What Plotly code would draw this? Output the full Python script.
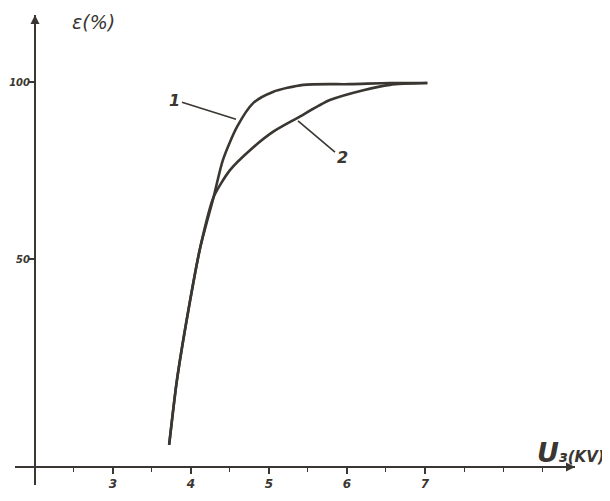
import plotly.graph_objects as go

# Curve 1
u1 = [3.72, 3.82, 3.96, 4.12, 4.29, 4.41, 4.59, 4.80, 5.05, 5.44, 6.04, 6.55, 7.03]
e1 = [-2.5, 15.8, 34.7, 53.4, 67.5, 78.0, 87.3, 94.1, 97.2, 99.2, 99.4, 99.7, 99.7]
# Curve 2
u2 = [3.72, 3.82, 3.96, 4.12, 4.29, 4.50, 4.76, 5.05, 5.36, 5.78, 6.21, 6.55, 7.03]
e2 = [-2.5, 15.8, 34.7, 53.4, 67.5, 75.1, 80.8, 85.9, 89.8, 94.9, 97.7, 99.2, 99.7]

x_ticks = [3, 4, 5, 6, 7]
y_ticks = [50, 100]
curve_labels = ["1", "2"]

ink = "#3a3631"
paper = "#ffffff"

fig = go.Figure()
for u, e in [(u1, e1), (u2, e2)]:
    fig.add_trace(go.Scatter(x=u, y=e, mode="lines",
                             line=dict(color=ink, width=2.6, shape="spline", smoothing=0.7),
                             hoverinfo="skip", showlegend=False))

tick_font = dict(family="DejaVu Sans", size=12, color=ink, style="italic", weight="bold")

# page body has an 8px margin, so the figure is sized to fit the window
fig.update_layout(
    width=602, height=493,
    margin=dict(l=7, r=35, t=7, b=16, autoexpand=False),
    paper_bgcolor=paper, plot_bgcolor=paper,
    showlegend=False,
    xaxis=dict(range=[1.744, 8.923], anchor="free", position=0.0383, automargin=False,
               showline=True, linecolor=ink, linewidth=2,
               showgrid=False, zeroline=False,
               tickmode="array", tickvals=x_ticks, ticktext=[str(t) for t in x_ticks],
               ticks="outside", ticklen=6, tickwidth=1.5, tickcolor=ink,
               minor=dict(dtick=0.5, tick0=0, ticks="outside", ticklen=4, tickwidth=1, tickcolor=ink),
               tickfont=tick_font),
    yaxis=dict(range=[-13.84, 118.93], anchor="free", position=0.0357, automargin=False,
               showline=True, linecolor=ink, linewidth=2,
               showgrid=False, zeroline=False,
               tickmode="array", tickvals=y_ticks, ticktext=[str(t) for t in y_ticks],
               ticks="outside", ticklen=5, tickwidth=1.5, tickcolor=ink, ticklabelstandoff=-3,
               tickfont=dict(family="DejaVu Sans", size=10, color=ink, style="italic", weight="bold")),
)

# axis arrows
fig.add_annotation(xref="paper", yref="paper", x=1.0, y=0.0383, ax=-22, ay=0,
                   showarrow=True, arrowhead=2, arrowsize=1, arrowwidth=1.8, arrowcolor=ink, text="")
fig.add_annotation(xref="paper", yref="paper", x=0.0357, y=1.0, ax=0, ay=22,
                   showarrow=True, arrowhead=2, arrowsize=1, arrowwidth=1.8, arrowcolor=ink, text="")

# axis titles
fig.add_annotation(xref="paper", yref="paper", x=0.098, y=1.012, xanchor="left", yanchor="top",
                   text="ε(%)", showarrow=False,
                   font=dict(family="DejaVu Sans", size=19, color=ink, style="italic"))
fig.add_annotation(xref="paper", yref="paper", x=1.057, y=0.032, xanchor="right", yanchor="bottom",
                   text="<span style='font-size:27px'>U</span>з(KV)", showarrow=False,
                   font=dict(family="DejaVu Sans", size=15, color=ink, style="italic", weight="bold"))

# curve labels with leader lines
fig.add_annotation(x=4.577, y=89.5, ax=-61, ay=-19, text=curve_labels[0],
                   showarrow=True, arrowhead=0, arrowwidth=1.6, arrowcolor=ink, standoff=0,
                   font=dict(family="DejaVu Sans", size=16, color=ink, style="italic", weight="bold"))
fig.add_annotation(x=5.372, y=89.0, ax=44, ay=37, text=curve_labels[1],
                   showarrow=True, arrowhead=0, arrowwidth=1.6, arrowcolor=ink, standoff=0,
                   font=dict(family="DejaVu Sans", size=16, color=ink, style="italic", weight="bold"))

fig.write_html("out.html")
